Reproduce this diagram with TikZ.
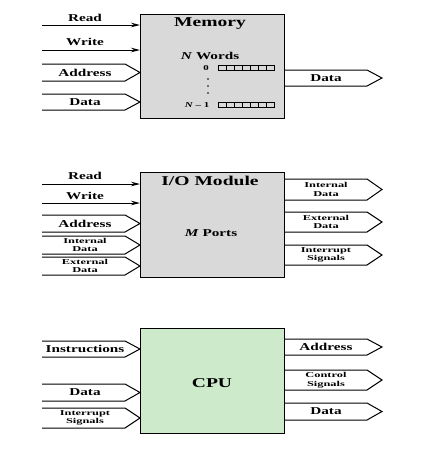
\documentclass[tikz,border=0pt]{standalone}
\usepackage{fontspec}
\setmainfont[FakeStretch=1.45]{Liberation Serif}
\newfontfamily\widefont[FakeStretch=1.65]{Liberation Serif}
\usetikzlibrary{arrows.meta}
\definecolor{memgray}{RGB}{217,217,217}
\definecolor{cpugreen}{RGB}{205,234,203}
\newcommand\inpent[5]{%
  \draw[sig] (42,#2) -- (125,#2) -- (140,{(#2+#3)/2}) -- (125,#3) -- (42,#3);
  \node[#5] (#1) at (85,{(#2+#3)/2}) {#4};}
\newcommand\outpent[5]{%
  \draw[sig] (284,#2) -- (367,#2) -- (382,{(#2+#3)/2}) -- (367,#3) -- (284,#3);
  \node[#5] (#1) at (326,{(#2+#3)/2}) {#4};}
\begin{document}
\begin{tikzpicture}[x=1pt,y=-1pt,
  unitbox/.style={draw,line width=1.4pt,minimum width=144pt,anchor=north west,inner sep=0pt},
  sig/.style={draw,line width=1pt,line join=miter},
  ctl/.style={draw,line width=1pt,-{Stealth[length=9pt,width=4.5pt]}},
  lab/.style={font=\bfseries\fontsize{10.5}{12}\selectfont,inner sep=0pt},
  slab/.style={font=\widefont\bfseries\fontsize{7.5}{8.5}\selectfont,align=center,inner sep=0pt},
  ttl/.style={font=\bfseries\fontsize{13.5}{15}\selectfont,inner sep=0pt,anchor=base},
  tiny/.style={font=\bfseries\fontsize{7.5}{8.5}\selectfont,inner sep=0pt},
  reg/.style={draw,line width=0.8pt}]
\useasboundingbox (0,0) rectangle (423,451);

% ---------------- Memory ----------------
\node[unitbox,fill=memgray,minimum height=104pt] (mem) at (140,14) {};
\node[ttl] (memt) at (210,26) {Memory};
\node[lab] (memw) at (210,56) {\textit{N} Words};
\node[tiny] (mem0) at (206,68) {0};
\node[tiny] (memn) at (197,105) {\textit{N} – 1};
\foreach \i in {0,...,6} {
  \draw[reg] ({218+8*\i},65.5) rectangle ++(8,5);
  \draw[reg] ({218+8*\i},102.5) rectangle ++(8,5);
}
\foreach \yy in {79,86,93} \fill (208,\yy) circle (0.9pt);

\coordinate (mrd) at (42,25);
\coordinate (mwr) at (42,50);
\draw[ctl] (mrd) -- (mrd -| mem.west);
\draw[ctl] (mwr) -- (mwr -| mem.west);
\node[lab] (mrdl) at (85,18) {Read};
\node[lab] (mwrl) at (85,42) {Write};
\inpent{maddr}{64}{81}{Address}{lab}
\inpent{mdin}{94}{110}{Data}{lab}
\outpent{mdout}{70}{86}{Data}{lab}

% ---------------- I/O Module ----------------
\node[unitbox,fill=memgray,minimum height=105pt] (io) at (140,172) {};
\node[ttl] (iot) at (210,185) {I/O Module};
\node[lab] (iop) at (211,233) {\textit{M} Ports};

\coordinate (ird) at (42,184);
\coordinate (iwr) at (42,203);
\draw[ctl] (ird) -- (ird -| io.west);
\draw[ctl] (iwr) -- (iwr -| io.west);
\node[lab] (irdl) at (85,176) {Read};
\node[lab] (iwrl) at (85,196) {Write};
\inpent{iaddr}{215}{232}{Address}{lab}
\inpent{iintin}{236}{254}{Internal\\Data}{slab}
\inpent{iextin}{257}{275}{External\\Data}{slab}
\outpent{iintout}{179}{200}{Internal\\Data}{slab}
\outpent{iextout}{212}{232}{External\\Data}{slab}
\outpent{iirq}{245}{265}{Interrupt\\Signals}{slab}

% ---------------- CPU ----------------
\node[unitbox,fill=cpugreen,minimum height=105pt] (cpu) at (140,328) {};
\node[ttl] (cput) at (212,387) {CPU};
\inpent{cins}{341}{357}{Instructions}{lab}
\inpent{cdin}{384}{401}{Data}{lab}
\inpent{cirq}{408}{428}{Interrupt\\Signals}{slab}
\outpent{caddr}{339}{355}{Address}{lab}
\outpent{cctl}{370}{390}{Control\\Signals}{slab}
\outpent{cdout}{403}{420}{Data}{lab}
\end{tikzpicture}
\end{document}
